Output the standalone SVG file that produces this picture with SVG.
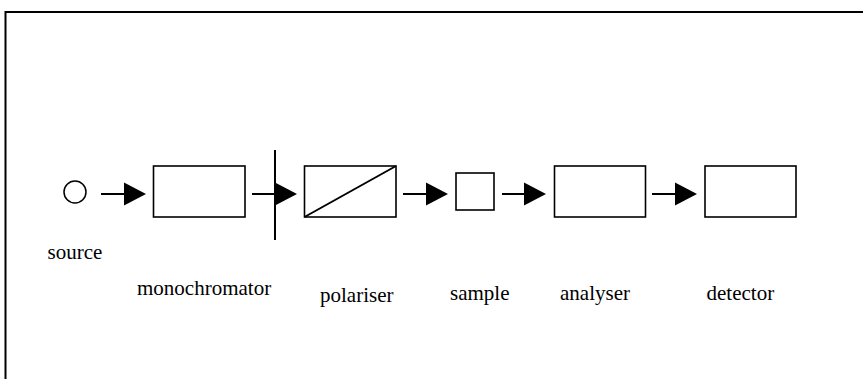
<svg xmlns="http://www.w3.org/2000/svg" width="863" height="379" viewBox="0 0 863 379">
  <style>
    .frame { fill: none; stroke: #000; stroke-width: 2; }
    .box { fill: #fff; stroke: #000; stroke-width: 1.6; }
    .wire { stroke: #000; stroke-width: 2; fill: none; }
    .head { fill: #000; stroke: none; }
    .label { font-size: 21px; fill: #000; }
  </style>

  <!-- outer frame (open to the right and bottom) -->
  <path class="frame" d="M5.5,380 V12 H864"/>

  <!-- optical path connectors -->
  <g id="connectors">
    <line class="wire" x1="101" y1="194" x2="126" y2="194"/>
    <polygon class="head" points="124,182.5 146,194 124,205.5"/>
    <line class="wire" x1="252" y1="194" x2="277" y2="194"/>
    <polygon class="head" points="275,182.5 297,194 275,205.5"/>
    <line class="wire" x1="403" y1="194" x2="428" y2="194"/>
    <polygon class="head" points="426,182.5 448,194 426,205.5"/>
    <line class="wire" x1="502" y1="194" x2="526" y2="194"/>
    <polygon class="head" points="524,182.5 546,194 524,205.5"/>
    <line class="wire" x1="652" y1="194" x2="677" y2="194"/>
    <polygon class="head" points="675,182.5 697,194 675,205.5"/>
  </g>

  <g font-family="'Liberation Serif', 'DejaVu Serif', serif">
    <g id="source">
      <circle cx="75" cy="192" r="11" fill="#fff" stroke="#000" stroke-width="1.5"/>
      <text class="label" x="47.5" y="259">source</text>
    </g>

    <g id="monochromator">
      <rect class="box" x="153.5" y="166" width="91.5" height="51"/>
      <!-- exit slit -->
      <line class="wire" x1="275" y1="150" x2="275" y2="240"/>
      <text class="label" x="137" y="295">monochromator</text>
    </g>

    <g id="polariser">
      <rect class="box" x="304.5" y="166" width="91.5" height="51"/>
      <line class="wire" x1="304.5" y1="217" x2="396" y2="166" stroke-width="1.6"/>
      <text class="label" x="320" y="302">polariser</text>
    </g>

    <g id="sample">
      <rect class="box" x="456" y="173" width="38" height="37"/>
      <text class="label" x="450" y="300">sample</text>
    </g>

    <g id="analyser">
      <rect class="box" x="554.5" y="166" width="91" height="51"/>
      <text class="label" x="560" y="300">analyser</text>
    </g>

    <g id="detector">
      <rect class="box" x="705" y="166" width="91" height="51"/>
      <text class="label" x="706.5" y="300">detector</text>
    </g>
  </g>
</svg>
